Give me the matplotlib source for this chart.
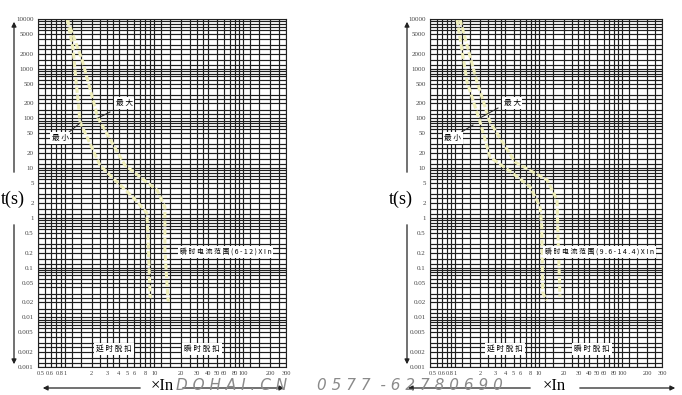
import matplotlib.pyplot as plt
from matplotlib.lines import Line2D
from matplotlib.patches import FancyArrowPatch
from matplotlib.ticker import FixedLocator, NullFormatter
from matplotlib.transforms import ScaledTranslation

W, H = 682, 395

x_ticks = [0.5, 0.6, 0.8, 1, 2, 3, 4, 5, 6, 8, 10, 20, 30, 40, 50, 60, 80, 100, 200, 300]
x_labels = ['0.5', '0.6', '0.8', '1', '2', '3', '4', '5', '6', '8', '10',
            '20', '30', '40', '50', '60', '80', '100', '200', '300']
y_ticks = [10000, 5000, 2000, 1000, 500, 200, 100, 50, 20, 10, 5, 2, 1,
           0.5, 0.2, 0.1, 0.05, 0.02, 0.01, 0.005, 0.002, 0.001]
y_labels = ['10000', '5000', '2000', '1000', '500', '200', '100', '50', '20', '10', '5', '2', '1',
            '0.5', '0.2', '0.1', '0.05', '0.02', '0.01', '0.005', '0.002', '0.001']

# left chart, trip curves (xIn, seconds)
left_min_x = [1.06, 1.23, 1.48, 2.47, 3.2, 5.8, 8.3, 8.5, 9.0, 9.4]
left_min_t = [10000, 2610, 85, 11.5, 7.2, 2.6, 1.25, 0.49, 0.026, 0.026]
left_max_x = [1.06, 1.56, 2.35, 4.7, 10.8, 13.2, 13.2, 14.3, 15.0]
left_max_t = [10000, 1500, 102, 11.5, 3.6, 1.66, 0.22, 0.022, 0.022]
left_range = '瞬 时 电 流 范 围 ( 6 - 1 2 ) X I n'

# right chart
right_min_x = [1.05, 1.39, 1.99, 2.61, 4.9, 7.9, 10.4, 10.9, 11.2, 12.5]
right_min_t = [10000, 540, 85, 16.7, 7.9, 4.2, 1.66, 0.65, 0.031, 0.022]
right_max_x = [1.14, 1.83, 2.61, 5.2, 12.6, 16.6, 17.0, 18.0]
right_max_t = [10000, 540, 85, 13.3, 5.8, 2.3, 0.5, 0.026]
right_range = '瞬 时 电 流 范 围 ( 9 . 6 - 1 4 . 4 ) X I n'

CJK = ['Noto Sans CJK SC', 'DejaVu Sans']
SERIF = 'Liberation Serif'
CURVE = '#eeedb9'


def fp(x, y):
    return x / W, 1 - y / H


fig = plt.figure(figsize=(W / 100, H / 100), dpi=100)

xgrid = [s * 10 ** e for e in range(-1, 3) for s in [1, 1.2, 1.5, 2, 2.5, 3, 3.5, 4, 5, 6, 7, 8, 9]]
xgrid = [v for v in xgrid if 0.5 <= v <= 300]
ygrid = [s * 10 ** e for e in range(-3, 4) for s in [1, 1.2, 1.5, 2, 2.5, 3, 4, 5, 6, 7, 8, 9]] + [10000]


def chart(x0, x1, mins, maxs):
    ax = fig.add_axes([x0 / W, 1 - 367 / H, (x1 - x0) / W, (367 - 19) / H])
    ax.set_xscale('log')
    ax.set_yscale('log')
    ax.set_xlim(0.5, 300)
    ax.set_ylim(0.001, 10000)
    ax.set_xticks(x_ticks, x_labels)
    ax.set_yticks(y_ticks, y_labels)
    ax.xaxis.set_minor_locator(FixedLocator(xgrid))
    ax.yaxis.set_minor_locator(FixedLocator(ygrid))
    ax.xaxis.set_minor_formatter(NullFormatter())
    ax.yaxis.set_minor_formatter(NullFormatter())
    ax.tick_params(which='both', length=0)
    ax.tick_params(axis='x', pad=3)
    ax.tick_params(axis='y', pad=3)
    for lab in ax.get_xticklabels():
        lab.set_fontfamily(SERIF)
        lab.set_fontsize(4.6)
        lab.set_color('#444444')
    for lab in ax.get_yticklabels():
        lab.set_fontfamily(SERIF)
        lab.set_fontsize(5)
        lab.set_color('#444444')
    # the scan squeezes the first labels to the right
    for lab, dx in zip(ax.get_xticklabels()[:3], [3, 5, 3]):
        lab.set_transform(lab.get_transform() + ScaledTranslation(dx / 100, 0, fig.dpi_scale_trans))
    ax.grid(which='both', color='#1e1e1e', lw=0.85)
    for s in ax.spines.values():
        s.set_color('#222222')
    for cx, ct in (mins, maxs):
        ax.plot(cx, ct, color=CURVE, lw=2.2, ls=(0, (2, 0.8)))
    return ax


chart(38, 286, (left_min_x, left_min_t), (left_max_x, left_max_t))
chart(430, 662, (right_min_x, right_min_t), (right_max_x, right_max_t))


def label(x, y, s, ha='center', size=5.5):
    fig.text(*fp(x, y), s, ha=ha, va='center', fontsize=size, family=CJK,
             bbox=dict(facecolor='white', edgecolor='none', pad=1.2))


def seg(a, b):
    fig.add_artist(Line2D([a[0] / W, b[0] / W], [1 - a[1] / H, 1 - b[1] / H],
                          color='#222222', lw=0.7, transform=fig.transFigure))


def arrow(a, b):
    fig.add_artist(FancyArrowPatch(fp(*a), fp(*b), arrowstyle='-|>', mutation_scale=7,
                                   lw=0.9, color='#222222', transform=fig.transFigure))


# left chart texts
label(124, 103, '最 大')
label(60, 138, '最 小')
seg((110, 112), (98, 118))
seg((68, 133), (80, 123))
label(180, 252, left_range, ha='left', size=5)
label(114, 349, '延 时 脱 扣')
label(202, 349, '瞬 时 脱 扣')

# right chart texts
label(512, 103, '最 大')
label(453, 138, '最 小')
seg((498, 108), (480, 118))
seg((460, 133), (473, 125))
label(545, 252, right_range, ha='left', size=5)
label(505, 349, '延 时 脱 扣')
label(592, 349, '瞬 时 脱 扣')

# axis arrows and titles
for ax_x, tx, lx, rx in ((14, 13, (143, 40), (180, 287)), (407, 401, (533, 405), (577, 678))):
    arrow((ax_x, 175), (ax_x, 19))
    arrow((ax_x, 222), (ax_x, 367))
    fig.text(*fp(tx, 199), 't(s)', ha='center', va='center', fontsize=13, family=SERIF)
    arrow((lx[0], 388), (lx[1], 388))
    arrow((rx[0], 388), (rx[1], 388))

fig.text(*fp(162, 386), '×In', ha='center', va='center', fontsize=12, family=SERIF)
fig.text(*fp(554, 386), '×In', ha='center', va='center', fontsize=12, family=SERIF)

# scanned watermark
fig.text(*fp(232, 386), 'D O H A I . C N', ha='center', va='center', fontsize=11,
         style='italic', color='#8a8a8a', family='DejaVu Sans')
fig.text(*fp(410, 386), '0 5 7 7  - 6 2 7 8 0 6 9 0', ha='center', va='center', fontsize=11,
         style='italic', color='#8a8a8a', family='DejaVu Sans')

fig.savefig('out.png', dpi=100, facecolor='white')
